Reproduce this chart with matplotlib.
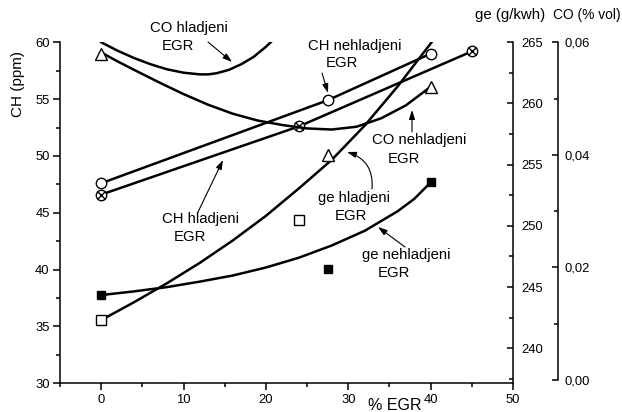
import matplotlib
matplotlib.use("Agg")
import matplotlib.pyplot as plt
from matplotlib.ticker import MultipleLocator, FixedLocator, FixedFormatter

plt.rcParams['font.family'] = ['Liberation Sans', 'DejaVu Sans']

# ---------------- data ----------------
# CH (ppm), left axis
ch_neh_x = [0, 27.5, 40]
ch_neh_y = [47.6, 54.9, 59.0]
ch_hl_x = [0, 24, 45]
ch_hl_y = [46.6, 52.6, 59.2]

# ge (g/kWh), first right axis
ge_hl_x = [0, 24]
ge_hl_y = [242.3, 250.5]
ge_neh_x = [0, 27.5, 40]
ge_neh_y = [244.35, 246.45, 253.6]
# fitted curves (sampled along the drawn curves)
ge_hl_fit_x = [0, 4, 8, 12, 16, 20, 24, 28, 32, 36, 40, 41]
ge_hl_fit_y = [242.3, 243.77, 245.32, 246.99, 248.82, 250.82, 253.06, 255.4, 258.2, 261.4, 264.9, 265.8]
ge_neh_fit_x = [0, 4, 8, 12, 16, 20, 24, 28, 32, 36, 38, 40]
ge_neh_fit_y = [244.35, 244.65, 245.0, 245.45, 245.95, 246.6, 247.4, 248.4, 249.6, 251.2, 252.2, 253.55]

# CO (% vol), second right axis
co_neh_x = [0, 27.5, 40]
co_neh_y = [0.058, 0.040, 0.052]
co_neh_fit_x = [0, 2, 4, 7, 10, 13, 16, 19, 22, 25, 28, 31, 34, 37, 40]
co_neh_fit_y = [0.0582, 0.0566, 0.0551, 0.0529, 0.0508, 0.0489, 0.0473, 0.0461,
                0.0453, 0.0447, 0.0445, 0.0450, 0.0465, 0.0488, 0.0521]
co_hl_fit_x = [0, 2, 4, 6, 8, 10, 12, 13, 14, 15.5, 17, 18.5, 20, 21]
co_hl_fit_y = [0.0600, 0.0585, 0.0572, 0.0561, 0.0552, 0.0546, 0.0543, 0.0543,
               0.0545, 0.0551, 0.0561, 0.0574, 0.0592, 0.0606]

x_ticks = [0, 10, 20, 30, 40, 50]
ch_ticks = [30, 35, 40, 45, 50, 55, 60]
ge_ticks = [240, 245, 250, 255, 260, 265]
co_ticks = [0.0, 0.02, 0.04, 0.06]
co_tick_labels = ['0,00', '0,02', '0,04', '0,06']

# ---------------- figure ----------------
W, H = 622, 412
fig = plt.figure(figsize=(W / 100, H / 100), dpi=100)
ax = fig.add_axes([60 / W, 1 - 383.3 / H, 453 / W, 341 / H])
ax2 = ax.twinx()
ax3 = ax.twinx()

LW = 1.8
TICK_FS = 9.4
SP_LW = 1.1

# main axis
ax.set_xlim(-5, 50)
ax.set_ylim(30, 60)
ax.spines['top'].set_visible(False)
ax.spines['right'].set_visible(False)
for s in ['left', 'bottom']:
    ax.spines[s].set_linewidth(SP_LW)
ax.xaxis.set_major_locator(FixedLocator(x_ticks))
ax.xaxis.set_minor_locator(MultipleLocator(5))
ax.yaxis.set_major_locator(FixedLocator(ch_ticks))
ax.yaxis.set_minor_locator(MultipleLocator(2.5))
ax.tick_params(axis='both', which='major', direction='out', length=5, width=SP_LW,
               labelsize=TICK_FS, pad=2.5)
ax.tick_params(axis='both', which='minor', direction='out', length=2.7, width=SP_LW)

# ge axis
ax2.set_ylim(237.14, 265)
for s in ['top', 'left', 'bottom']:
    ax2.spines[s].set_visible(False)
ax2.spines['right'].set_linewidth(SP_LW)
ax2.yaxis.set_major_locator(FixedLocator(ge_ticks))
ax2.yaxis.set_minor_locator(MultipleLocator(2.5))
ax2.tick_params(axis='y', which='major', direction='in', length=4, width=SP_LW,
                labelsize=TICK_FS, pad=6)
ax2.tick_params(axis='y', which='minor', direction='in', length=3, width=SP_LW)

# CO axis
co_bottom = -0.06 * 3.3 / 337.7
ax3.set_ylim(co_bottom, 0.06)
for s in ['top', 'left', 'bottom']:
    ax3.spines[s].set_visible(False)
ax3.spines['right'].set_position(('axes', (558 - 60) / 453))
ax3.spines['right'].set_bounds(0, 0.06)
ax3.spines['right'].set_linewidth(SP_LW)
ax3.yaxis.set_major_locator(FixedLocator(co_ticks))
ax3.yaxis.set_major_formatter(FixedFormatter(co_tick_labels))
ax3.yaxis.set_minor_locator(FixedLocator([0.01, 0.03, 0.05]))
ax3.tick_params(axis='y', which='major', direction='in', length=4, width=SP_LW,
                labelsize=TICK_FS, pad=5)
ax3.tick_params(axis='y', which='minor', direction='in', length=3, width=SP_LW)

# ---------------- series ----------------
# CH lines with markers
ax.plot(ch_neh_x, ch_neh_y, '-', color='black', lw=LW, zorder=2)
ax.plot(ch_neh_x, ch_neh_y, 'o', ms=7.5, mfc='white', mec='black', mew=1.0, zorder=3)
ax.plot(ch_hl_x, ch_hl_y, '-', color='black', lw=LW, zorder=2)
ax.plot(ch_hl_x, ch_hl_y, 'o', ms=7.5, mfc='white', mec='black', mew=1.0, zorder=3)
ax.plot(ch_hl_x, ch_hl_y, 'x', ms=5.2, mec='black', mew=1.0, zorder=4)

# ge curves
ax2.plot(ge_hl_fit_x, ge_hl_fit_y, '-', color='black', lw=LW, zorder=2)
ax2.plot(ge_hl_x, ge_hl_y, 's', ms=6.6, mfc='white', mec='black', mew=1.0, zorder=3)
ax2.plot(ge_neh_fit_x, ge_neh_fit_y, '-', color='black', lw=LW, zorder=2)
ax2.plot(ge_neh_x, ge_neh_y, 's', ms=5.2, mfc='black', mec='black', zorder=3)

# CO curves
ax3.plot(co_neh_fit_x, co_neh_fit_y, '-', color='black', lw=LW, zorder=2)
ax3.plot(co_neh_x, co_neh_y, '^', ms=9, mfc='white', mec='black', mew=1.0, zorder=3)
ax3.plot(co_hl_fit_x, co_hl_fit_y, '-', color='black', lw=LW, zorder=2)

# ---------------- labels ----------------
def ftext(px, py, s, fs=10.7, **kw):
    fig.text(px / W, 1 - py / H, s, ha='center', va='center', fontsize=fs, **kw)

def arrow(x0, y0, x1, y1, rad=0.0):
    ax.annotate('', xy=(x1, H - y1), xycoords='figure pixels',
                xytext=(x0, H - y0), textcoords='figure pixels',
                arrowprops=dict(arrowstyle='-|>,head_length=0.55,head_width=0.18',
                                color='black', lw=0.8, shrinkA=0, shrinkB=0,
                                mutation_scale=10,
                                connectionstyle='arc3,rad=%g' % rad),
                annotation_clip=False)

ftext(18, 84, 'CH (ppm)', fs=11, rotation=90)
ftext(510, 15, 'ge (g/kwh)', fs=10.8)
fig.text(553 / W, 1 - 15 / H, 'CO (% vol)', ha='left', va='center', fontsize=9.9)
ftext(395, 405, '% EGR', fs=11.5)

# CO hladjeni
ftext(189, 28, 'CO hladjeni')
ftext(178, 46.5, 'EGR')
arrow(208, 42, 232, 62)
# CH nehladjeni
ftext(355, 46, 'CH nehladjeni')
ftext(342, 63, 'EGR')
arrow(322, 73, 328, 93)
# CO nehladjeni
ftext(419, 140, 'CO nehladjeni')
ftext(404, 159, 'EGR')
arrow(412, 132, 412, 110)
# ge hladjeni
ftext(354, 198, 'ge hladjeni')
ftext(351, 216, 'EGR')
arrow(372, 189, 347, 152, rad=0.4)
# ge nehladjeni
ftext(406, 255, 'ge nehladjeni')
ftext(394, 273, 'EGR')
arrow(405, 247, 378, 227)
# CH hladjeni
ftext(200, 219, 'CH hladjeni')
ftext(190, 237, 'EGR')
arrow(198, 212, 223, 160)

fig.savefig('out.png', dpi=100)
